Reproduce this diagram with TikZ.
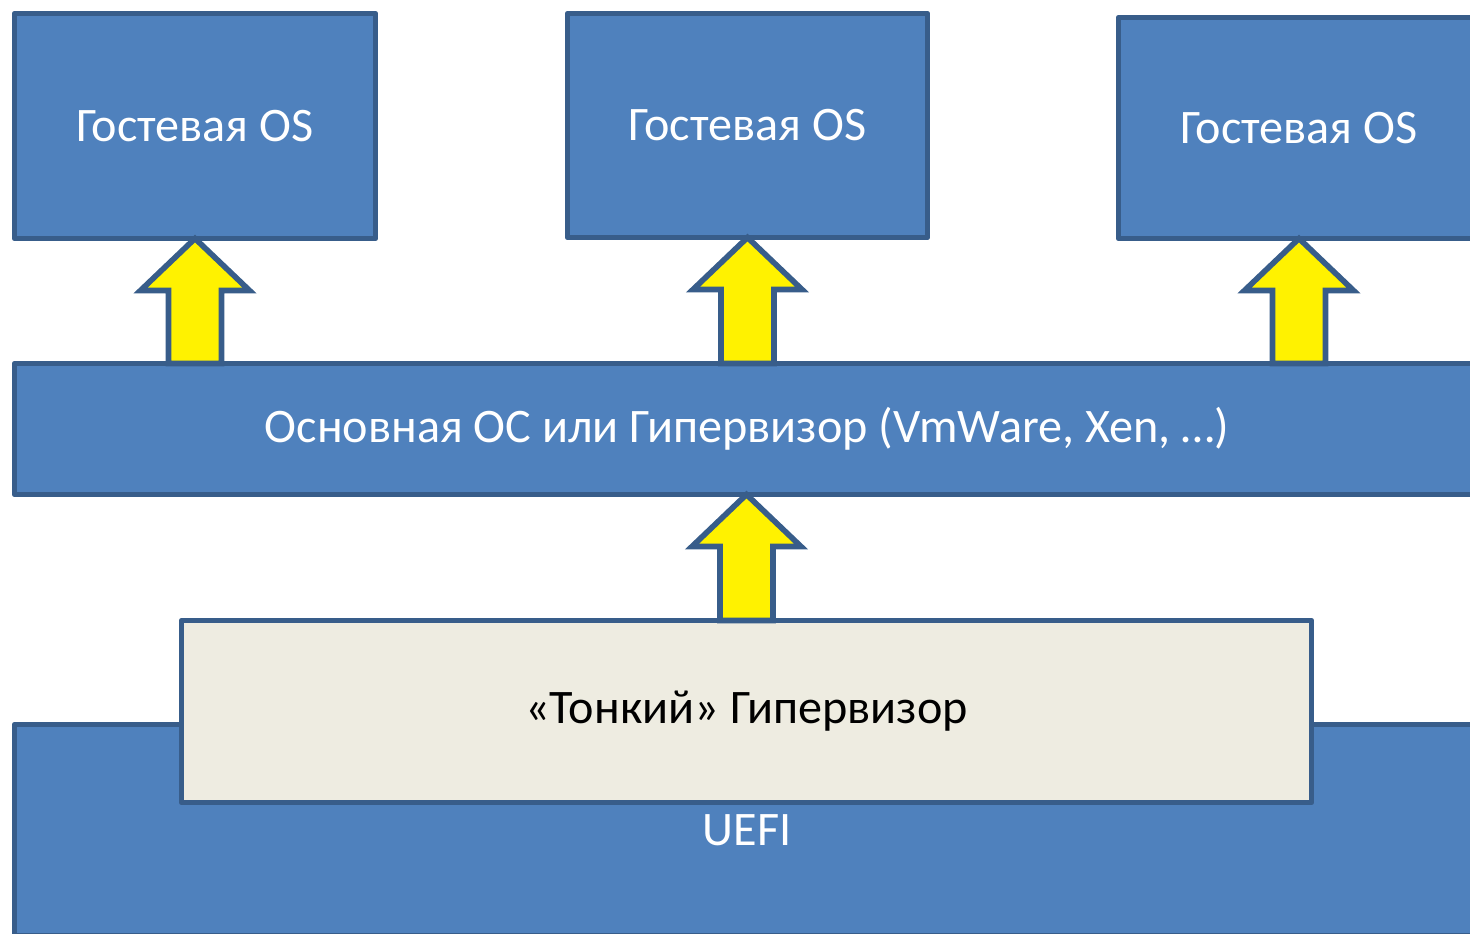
\documentclass[tikz,border=0pt]{standalone}
\usepackage{fontspec}
\setmainfont{Carlito}
\usetikzlibrary{calc}
\definecolor{boxblue}{HTML}{4F81BD}
\definecolor{boxline}{HTML}{385D8A}
\definecolor{boxbeige}{HTML}{EEECE1}
% block arrow pointing up, from #1 (foot) to #2 (tip)
\newcommand\liftarrow[2]{
  \draw[yarrow] ($(#1)+(-0.53,0)$) |- ($(#2)+(-1.09,-1.04)$) -- (#2)
    -- ($(#2)+(1.09,-1.04)$) -| ($(#1)+(0.53,0)$) -- cycle;
}
\tikzset{
  layer/.style={shape=rectangle, draw=boxline, fill=boxblue, text=white,
    line width=3.2pt, line join=round, outer sep=0pt,
    font=\fontsize{27.4}{33}\selectfont},
  yarrow/.style={draw=boxline, fill=yellow, line width=3.2pt}
}
\begin{document}
\begin{tikzpicture}
\useasboundingbox (0,0) rectangle (29.4,-18.68);
% guest systems
\node[layer, minimum width=7.22cm, minimum height=4.5cm] (guest1) at (3.9,-2.52) {Гостевая OS};
\node[layer, minimum width=7.2cm, minimum height=4.48cm] (guest2) at (14.95,-2.51) {Гостевая OS};
\node[layer, minimum width=7.22cm, minimum height=4.42cm] (guest3) at (25.98,-2.56) {Гостевая OS};
% host layer
\node[layer, minimum width=29.3cm, minimum height=2.62cm] (host) at (14.94,-8.58)
  {Основная ОС или Гипервизор (VmWare, Xen, …)};
% firmware with the thin hypervisor on top
\node[layer, minimum width=29.3cm, minimum height=4.22cm] (uefi) at (14.94,-16.6) {UEFI};
\node[layer, fill=boxbeige, text=black, minimum width=22.6cm, minimum height=3.64cm]
  (thin) at (14.93,-14.23) {«Тонкий» Гипервизор};
% arrows
\liftarrow{host.north -| guest1.south}{guest1.south}
\liftarrow{host.north -| guest2.south}{guest2.south}
\liftarrow{host.north -| guest3.south}{guest3.south}
\liftarrow{thin.north}{host.south -| thin.north}
\end{tikzpicture}
\end{document}
